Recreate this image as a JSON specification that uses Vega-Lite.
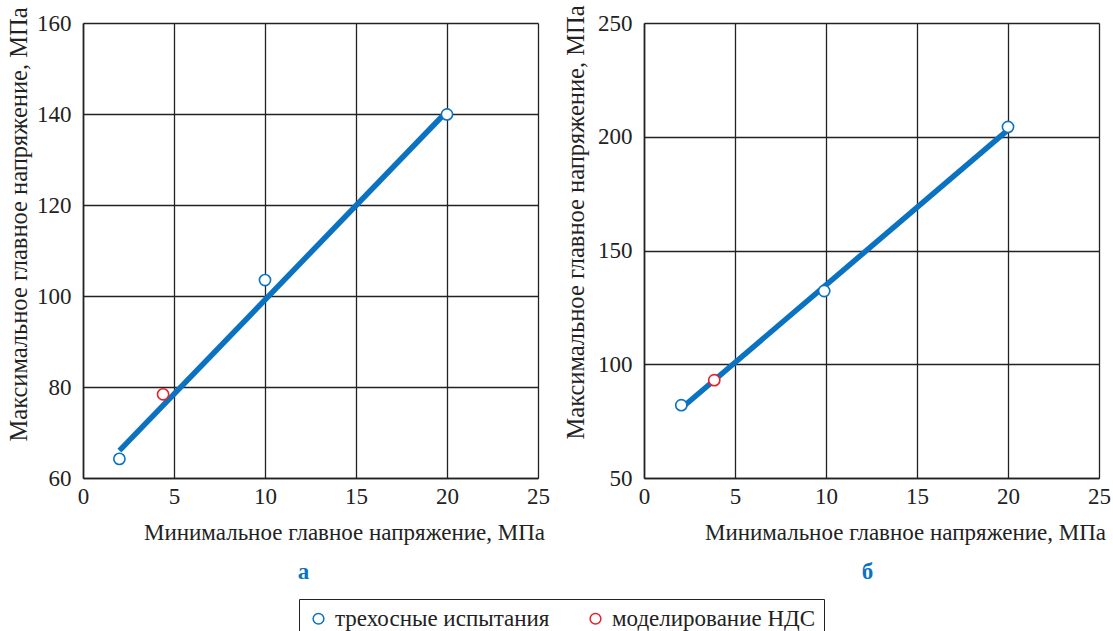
{
  "$schema": "https://vega.github.io/schema/vega-lite/v6.json",
  "background": "white",
  "padding": {"left": 5, "top": 4, "right": 0, "bottom": 0},
  "spacing": 12,
  "config": {
    "font": "Liberation Serif",
    "view": {"stroke": null},
    "axis": {
      "grid": true,
      "gridColor": "#222",
      "gridWidth": 1.3,
      "gridOpacity": 1,
      "domain": true,
      "domainColor": "#222",
      "domainWidth": 1.6,
      "ticks": false,
      "labelFont": "Liberation Serif",
      "labelFontSize": 23,
      "labelColor": "#222",
      "titleFont": "Liberation Serif",
      "titleFontSize": 23,
      "titleFontWeight": "normal",
      "titleColor": "#222"
    },
    "axisX": {"labelPadding": 7, "titleX": 261, "titleY": 54, "titleAlign": "center", "titleBaseline": "middle", "labelFlush": false},
    "axisY": {"labelPadding": 12, "titleAlign": "center", "titleBaseline": "middle", "titleAngle": -90, "titleFontSize": 24.5}
  },
  "datasets": {
    "ptsA": [
      {"x": 2.0, "y": 64.2, "type": "трехосные испытания"},
      {"x": 10.0, "y": 103.5, "type": "трехосные испытания"},
      {"x": 20.0, "y": 139.9, "type": "трехосные испытания"},
      {"x": 4.4, "y": 78.4, "type": "моделирование НДС"}
    ],
    "lineA": [{"x": 2.0, "y": 66.0}, {"x": 20.0, "y": 140.6}],
    "ptsB": [
      {"x": 2.05, "y": 82.0, "type": "трехосные испытания"},
      {"x": 9.9, "y": 132.2, "type": "трехосные испытания"},
      {"x": 20.0, "y": 204.3, "type": "трехосные испытания"},
      {"x": 3.86, "y": 93.0, "type": "моделирование НДС"}
    ],
    "lineB": [{"x": 2.1, "y": 81.0}, {"x": 20.0, "y": 203.0}]
  },
  "hconcat": [
    {
      "width": 455,
      "height": 455,
      "title": {"text": "а", "orient": "bottom", "color": "#0a72c0", "fontWeight": "bold", "fontSize": 23, "font": "Liberation Serif", "offset": 17, "dx": -7},
      "layer": [
        {
          "data": {"name": "lineA"},
          "mark": {"type": "line", "color": "#0a72c0", "strokeWidth": 5.5, "strokeCap": "butt"},
          "encoding": {
            "x": {"field": "x", "type": "quantitative", "scale": {"domain": [0, 25], "nice": false}, "axis": {"values": [0, 5, 10, 15, 20, 25], "title": "Минимальное главное напряжение, МПа"}},
            "y": {"field": "y", "type": "quantitative", "scale": {"domain": [60, 160], "nice": false, "zero": false}, "axis": {"values": [60, 80, 100, 120, 140, 160], "title": "Максимальное главное напряжение, МПа", "titleX": -64, "titleY": 201}}
          }
        },
        {
          "data": {"name": "ptsA"},
          "mark": {"type": "point", "shape": "circle", "filled": true, "fill": "white", "size": 125, "strokeWidth": 1.6, "opacity": 1},
          "encoding": {
            "x": {"field": "x", "type": "quantitative"},
            "y": {"field": "y", "type": "quantitative"},
            "stroke": {"field": "type", "type": "nominal", "scale": {"domain": ["трехосные испытания", "моделирование НДС"], "range": ["#0a72c0", "#e8202a"]}, "legend": {"orient": "none", "legendX": 216, "legendY": 576, "direction": "horizontal", "title": null, "strokeColor": "#222", "padding": 8, "labelFontSize": 23, "labelFont": "Liberation Serif", "labelColor": "#222", "symbolSize": 115, "symbolStrokeWidth": 1.5, "symbolFillColor": "white", "symbolType": "circle", "columnPadding": 34, "labelLimit": 400, "labelOffset": 5}}
          }
        }
      ]
    },
    {
      "width": 455,
      "height": 455,
      "title": {"text": "б", "orient": "bottom", "color": "#0a72c0", "fontWeight": "bold", "fontSize": 23, "font": "Liberation Serif", "offset": 17, "dx": -4},
      "layer": [
        {
          "data": {"name": "lineB"},
          "mark": {"type": "line", "color": "#0a72c0", "strokeWidth": 5.5, "strokeCap": "butt"},
          "encoding": {
            "x": {"field": "x", "type": "quantitative", "scale": {"domain": [0, 25], "nice": false}, "axis": {"values": [0, 5, 10, 15, 20, 25], "title": "Минимальное главное напряжение, МПа"}},
            "y": {"field": "y", "type": "quantitative", "scale": {"domain": [50, 250], "nice": false, "zero": false}, "axis": {"values": [50, 100, 150, 200, 250], "title": "Максимальное главное напряжение, МПа", "titleX": -68, "titleY": 199}}
          }
        },
        {
          "data": {"name": "ptsB"},
          "mark": {"type": "point", "shape": "circle", "filled": true, "fill": "white", "size": 125, "strokeWidth": 1.6, "opacity": 1},
          "encoding": {
            "x": {"field": "x", "type": "quantitative"},
            "y": {"field": "y", "type": "quantitative"},
            "stroke": {"field": "type", "type": "nominal", "scale": {"domain": ["трехосные испытания", "моделирование НДС"], "range": ["#0a72c0", "#e8202a"]}}
          }
        }
      ]
    }
  ]
}
